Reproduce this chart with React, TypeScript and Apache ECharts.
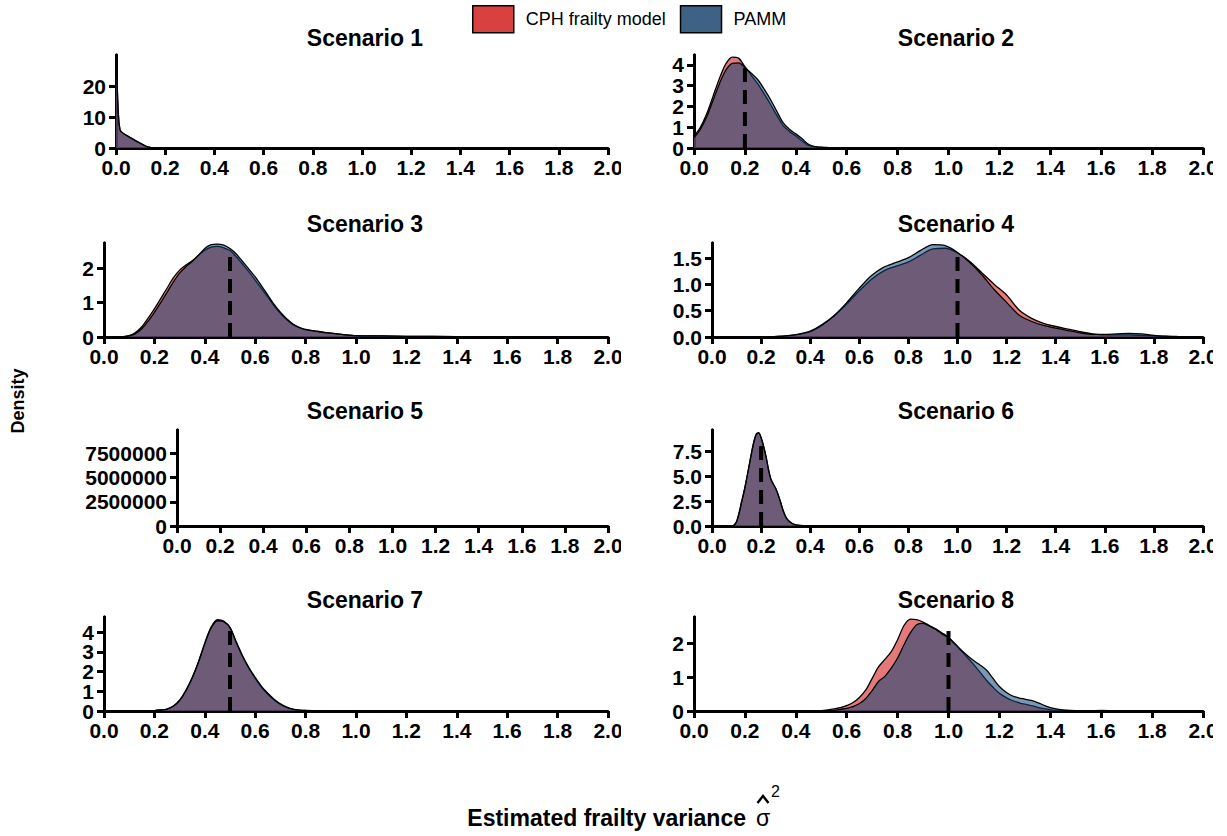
import React, { useEffect, useRef } from "react";
import * as echarts from "echarts";

const FONT = '"Liberation Sans", Arial, Helvetica, sans-serif';
const RED = "#d94040";
const BLUE = "#3e6286";
const RED_FILL = "#d94040";
const BLUE_FILL = "#0d4376";
const SERIES_NAMES = ["CPH frailty model", "PAMM"];
const TITLES = ["Scenario 1", "Scenario 2", "Scenario 3", "Scenario 4", "Scenario 5", "Scenario 6", "Scenario 7", "Scenario 8"];
const X_TITLE = "Estimated frailty variance";
const Y_TITLE = "Density";

// ---------- data ----------
const s1X = [0, 0.004, 0.008, 0.012, 0.016, 0.02, 0.03, 0.04, 0.05, 0.06, 0.07, 0.08, 0.09, 0.1, 0.11, 0.12, 0.13, 0.14, 0.16, 0.18, 0.2, 0.25, 0.3, 2.0];
const s1Cph = [29.5, 22, 13, 8, 6, 5.3, 4.7, 4.2, 3.7, 3.2, 2.7, 2.2, 1.8, 1.4, 1.0, 0.6, 0.35, 0.2, 0.1, 0.06, 0.04, 0.01, 0, 0];
const s1Pamm = [29.5, 22, 13, 8, 6, 5.3, 4.7, 4.2, 3.75, 3.3, 2.85, 2.4, 2.0, 1.55, 1.1, 0.65, 0.35, 0.2, 0.1, 0.06, 0.04, 0.01, 0, 0];

const s2X = [0, 0.025, 0.05, 0.075, 0.1, 0.125, 0.15, 0.175, 0.2, 0.225, 0.25, 0.275, 0.3, 0.325, 0.35, 0.375, 0.4, 0.425, 0.45, 0.475, 0.5, 0.525, 0.55, 0.575, 0.6, 2.0];
const s2Cph = [0.56, 1.0, 1.65, 2.5, 3.35, 4.05, 4.38, 4.33, 3.92, 3.5, 3.1, 2.62, 2.12, 1.58, 1.08, 0.8, 0.58, 0.34, 0.12, 0.05, 0.03, 0.02, 0.012, 0.006, 0.002, 0];
const s2Pamm = [0.5, 0.9, 1.5, 2.3, 3.1, 3.75, 4.08, 4.1, 3.88, 3.6, 3.3, 2.85, 2.35, 1.78, 1.22, 0.9, 0.68, 0.44, 0.18, 0.07, 0.04, 0.025, 0.015, 0.008, 0.003, 0];

const s3X = [0, 0.05, 0.075, 0.1, 0.125, 0.15, 0.175, 0.2, 0.225, 0.25, 0.275, 0.3, 0.325, 0.35, 0.375, 0.4, 0.425, 0.45, 0.475, 0.5, 0.525, 0.55, 0.575, 0.6, 0.625, 0.65, 0.675, 0.7, 0.725, 0.75, 0.775, 0.8, 0.85, 0.9, 0.95, 1.0, 1.1, 1.2, 1.4, 1.6, 2.0];
const s3Cph = [0, 0, 0.01, 0.04, 0.13, 0.3, 0.55, 0.82, 1.12, 1.42, 1.72, 1.95, 2.1, 2.22, 2.38, 2.53, 2.62, 2.64, 2.6, 2.52, 2.34, 2.12, 1.9, 1.66, 1.41, 1.16, 0.91, 0.69, 0.5, 0.36, 0.27, 0.21, 0.16, 0.11, 0.07, 0.04, 0.03, 0.02, 0.01, 0.005, 0];
const s3Pamm = [0, 0, 0.008, 0.03, 0.1, 0.24, 0.46, 0.72, 1.0, 1.3, 1.6, 1.86, 2.05, 2.2, 2.38, 2.58, 2.69, 2.71, 2.68, 2.58, 2.42, 2.2, 1.98, 1.75, 1.49, 1.22, 0.95, 0.72, 0.53, 0.38, 0.28, 0.22, 0.16, 0.11, 0.07, 0.04, 0.03, 0.02, 0.01, 0.005, 0];

const s4X = [0, 0.1, 0.2, 0.25, 0.3, 0.35, 0.4, 0.45, 0.5, 0.55, 0.6, 0.65, 0.7, 0.75, 0.8, 0.85, 0.9, 0.95, 1.0, 1.05, 1.1, 1.15, 1.2, 1.25, 1.3, 1.35, 1.4, 1.45, 1.5, 1.55, 1.6, 1.65, 1.7, 1.75, 1.8, 1.85, 1.9, 1.95, 2.0];
const s4Cph = [0, 0.001, 0.003, 0.008, 0.02, 0.05, 0.1, 0.23, 0.41, 0.63, 0.88, 1.1, 1.26, 1.35, 1.43, 1.56, 1.68, 1.69, 1.6, 1.44, 1.22, 1.0, 0.8, 0.52, 0.36, 0.26, 0.2, 0.15, 0.1, 0.06, 0.04, 0.04, 0.04, 0.03, 0.02, 0.01, 0.005, 0.002, 0];
const s4Pamm = [0, 0.001, 0.003, 0.008, 0.02, 0.05, 0.11, 0.24, 0.42, 0.66, 0.93, 1.17, 1.33, 1.42, 1.51, 1.65, 1.76, 1.74, 1.61, 1.42, 1.18, 0.9, 0.66, 0.42, 0.3, 0.22, 0.17, 0.12, 0.08, 0.05, 0.05, 0.06, 0.07, 0.06, 0.03, 0.015, 0.008, 0.003, 0];

const s5X = [0, 0.001, 2.0];
const s5Cph = [9900000, 0, 0];
const s5Pamm = [9900000, 0, 0];

const s6X = [0, 0.08, 0.09, 0.1, 0.11, 0.12, 0.13, 0.14, 0.15, 0.16, 0.17, 0.18, 0.19, 0.2, 0.21, 0.22, 0.23, 0.24, 0.25, 0.26, 0.27, 0.28, 0.29, 0.3, 0.31, 0.32, 0.33, 0.35, 0.4, 0.5, 2.0];
const s6Cph = [0, 0, 0.1, 0.45, 1.3, 2.4, 3.4, 4.6, 5.9, 7.2, 8.4, 9.2, 9.33, 8.8, 7.95, 6.9, 5.6, 4.65, 4.15, 3.7, 3.05, 2.3, 1.5, 0.9, 0.55, 0.35, 0.2, 0.07, 0.01, 0, 0];
const s6Pamm = [0, 0, 0.08, 0.4, 1.2, 2.3, 3.35, 4.55, 5.85, 7.15, 8.3, 9.1, 9.28, 8.85, 8.0, 6.95, 5.7, 4.7, 4.2, 3.75, 3.1, 2.35, 1.55, 0.95, 0.58, 0.37, 0.22, 0.08, 0.01, 0, 0];

const s7X = [0, 0.15, 0.2, 0.225, 0.25, 0.275, 0.3, 0.325, 0.35, 0.375, 0.4, 0.425, 0.45, 0.475, 0.5, 0.525, 0.55, 0.575, 0.6, 0.625, 0.65, 0.675, 0.7, 0.725, 0.75, 0.775, 0.8, 0.85, 0.9, 1.0, 2.0];
const s7Cph = [0, 0, 0.02, 0.05, 0.1, 0.25, 0.55, 1.05, 1.7, 2.5, 3.45, 4.25, 4.63, 4.55, 4.22, 3.45, 2.75, 2.15, 1.65, 1.2, 0.85, 0.56, 0.33, 0.18, 0.08, 0.04, 0.025, 0.015, 0.008, 0.003, 0];
const s7Pamm = [0, 0, 0.02, 0.05, 0.1, 0.24, 0.53, 1.02, 1.67, 2.47, 3.4, 4.2, 4.57, 4.52, 4.22, 3.5, 2.8, 2.2, 1.7, 1.25, 0.9, 0.6, 0.36, 0.2, 0.09, 0.045, 0.028, 0.016, 0.009, 0.003, 0];

const s8X = [0, 0.4, 0.45, 0.5, 0.525, 0.55, 0.575, 0.6, 0.625, 0.65, 0.675, 0.7, 0.725, 0.75, 0.775, 0.8, 0.825, 0.85, 0.875, 0.9, 0.925, 0.95, 0.975, 1.0, 1.025, 1.05, 1.075, 1.1, 1.125, 1.15, 1.175, 1.2, 1.225, 1.25, 1.275, 1.3, 1.325, 1.35, 1.375, 1.4, 1.425, 1.45, 1.5, 1.55, 1.6, 1.65, 1.7, 2.0];
const s8Cph = [0, 0, 0.003, 0.01, 0.03, 0.06, 0.1, 0.16, 0.25, 0.4, 0.62, 0.96, 1.3, 1.52, 1.75, 2.1, 2.52, 2.71, 2.69, 2.62, 2.52, 2.42, 2.3, 2.17, 1.98, 1.77, 1.57, 1.36, 1.13, 0.9, 0.7, 0.52, 0.4, 0.31, 0.25, 0.2, 0.16, 0.11, 0.07, 0.04, 0.02, 0.01, 0.004, 0.002, 0.001, 0, 0, 0];
const s8Pamm = [0, 0, 0.002, 0.005, 0.01, 0.02, 0.05, 0.08, 0.13, 0.22, 0.37, 0.6, 0.87, 1.02, 1.26, 1.56, 1.95, 2.3, 2.54, 2.58, 2.5, 2.4, 2.27, 2.15, 1.98, 1.8, 1.63, 1.48, 1.35, 1.2, 0.96, 0.72, 0.56, 0.45, 0.39, 0.35, 0.31, 0.25, 0.17, 0.1, 0.06, 0.03, 0.01, 0.01, 0.015, 0.005, 0, 0];

// true values (dashed lines) and the height the dashed segment reaches
const trueValues = [null, 0.2, 0.5, 1.0, null, 0.2, 0.5, 1.0];
const dashTops = [null, 4.0, 2.55, 1.61, null, 8.8, 4.35, 2.5];

// axes
const xMin = 0;
const xMax = 2;
const xInterval = 0.2;
const yMaxes = [30, 4.48, 2.74, 1.79, 9900000, 9.6, 4.76, 2.77];
const yTicks = [
  [0, 10, 20],
  [0, 1, 2, 3, 4],
  [0, 1, 2],
  [0, 0.5, 1.0, 1.5],
  [0, 2500000, 5000000, 7500000],
  [0, 2.5, 5.0, 7.5],
  [0, 1, 2, 3, 4],
  [0, 1, 2],
];
const yDecimals = [0, 0, 0, 1, 0, 1, 0, 0];

const xs = [s1X, s2X, s3X, s4X, s5X, s6X, s7X, s8X];
const cphs = [s1Cph, s2Cph, s3Cph, s4Cph, s5Cph, s6Cph, s7Cph, s8Cph];
const pamms = [s1Pamm, s2Pamm, s3Pamm, s4Pamm, s5Pamm, s6Pamm, s7Pamm, s8Pamm];

// ---------- layout ----------
const CHART_W = 1213;
const CHART_H = 836;
const rowTops = [55, 243, 430, 617];
const rowBottoms = [148, 337, 526, 711];
const panelLefts = [116, 694, 104, 712, 177, 712, 104, 694];
const colRights = [608, 1203];
const titleCenters = [365, 956];
const titleYs = [38, 224, 411, 600];

const zip = (a: number[], b: number[]) => a.map((v, i) => [v, b[i]]);

function yAxisFor(i: number, values: number[]) {
  const dec = yDecimals[i];
  return {
    type: "value",
    gridIndex: i,
    position: "left",
    min: 0,
    max: yMaxes[i],
    axisLine: { show: true, onZero: false, lineStyle: { color: "#000", width: 3 } },
    axisTick: { show: true, length: 7, customValues: values, lineStyle: { color: "#000", width: 3 } },
    axisLabel: {
      customValues: values,
      color: "#000",
      fontWeight: "bold",
      fontSize: 21,
      fontFamily: FONT,
      margin: 10,
      showMinLabel: true,
      showMaxLabel: true,
      hideOverlap: false,
      formatter: (v: number) => (dec > 0 ? v.toFixed(dec) : String(Math.round(v))),
    },
    splitLine: { show: false },
  };
}

function buildOption() {
  const grids: any[] = [];
  const xAxes: any[] = [];
  const yAxes: any[] = [];
  const series: any[] = [];
  const graphics: any[] = [];

  for (let i = 0; i < 8; i++) {
    const row = Math.floor(i / 2);
    const col = i % 2;
    const left = panelLefts[i];
    const top = rowTops[row];
    grids.push({
      left,
      top,
      width: colRights[col] - left,
      height: rowBottoms[row] - top,
      containLabel: false,
      outerBoundsMode: "none",
    });
    xAxes.push({
      type: "value",
      gridIndex: i,
      min: xMin,
      max: xMax,
      interval: xInterval,
      axisLine: { show: true, onZero: false, lineStyle: { color: "#000", width: 3 } },
      axisTick: { show: true, length: 7, lineStyle: { color: "#000", width: 3 } },
      axisLabel: {
        color: "#000",
        fontWeight: "bold",
        fontSize: 21,
        fontFamily: FONT,
        margin: 9,
        showMinLabel: true,
        showMaxLabel: true,
        hideOverlap: false,
        formatter: (v: number) => v.toFixed(1),
      },
      splitLine: { show: false },
    });
    // two overlaid y axes per panel (alternate ticks) so that dense tick labels are not thinned out
    const evenTicks = yTicks[i].filter((_, k) => k % 2 === 0);
    const oddTicks = yTicks[i].filter((_, k) => k % 2 === 1);
    yAxes.push(yAxisFor(i, evenTicks));
    yAxes.push(yAxisFor(i, oddTicks));
    const yIdx = 2 * i;

    const smooth = i === 0 || i === 4 ? false : 0.3;
    series.push({
      type: "line",
      name: SERIES_NAMES[0],
      xAxisIndex: i,
      yAxisIndex: yIdx,
      data: zip(xs[i], cphs[i]),
      symbol: "none",
      smooth,
      itemStyle: { color: RED },
      lineStyle: { color: "#000", width: 1.3 },
      areaStyle: { color: RED_FILL, opacity: 0.7 },
      z: 2,
    });
    series.push({
      type: "line",
      name: SERIES_NAMES[1],
      xAxisIndex: i,
      yAxisIndex: yIdx,
      data: zip(xs[i], pamms[i]),
      symbol: "none",
      smooth,
      itemStyle: { color: BLUE },
      lineStyle: { color: "#000", width: 1.3 },
      areaStyle: { color: BLUE_FILL, opacity: 0.55 },
      z: 3,
    });
    const tv = trueValues[i];
    const dt = dashTops[i];
    if (tv !== null && dt !== null) {
      series.push({
        type: "line",
        name: "true value " + (i + 1),
        xAxisIndex: i,
        yAxisIndex: yIdx,
        data: [
          [tv, 0],
          [tv, dt],
        ],
        symbol: "none",
        silent: true,
        lineStyle: { color: "#000", width: 4, type: [14, 8] },
        z: 5,
      });
    }

    graphics.push({
      type: "text",
      x: titleCenters[col],
      y: titleYs[row],
      style: {
        text: TITLES[i],
        textAlign: "center",
        textVerticalAlign: "middle",
        font: `bold 23px ${FONT}`,
        fill: "#000",
      },
    });
    if (col === 0) {
      // panel clip of the left column's last tick label
      graphics.push({
        type: "rect",
        z: 100,
        shape: { x: 621, y: rowBottoms[row] + 5, width: 32, height: 34 },
        style: { fill: "#fff" },
      });
    }
  }

  graphics.push({
    type: "text",
    x: 18,
    y: 401,
    rotation: Math.PI / 2,
    style: {
      text: Y_TITLE,
      textAlign: "center",
      textVerticalAlign: "middle",
      font: `bold 18px ${FONT}`,
      fill: "#000",
    },
  });
  graphics.push({
    type: "text",
    x: 746,
    y: 818,
    style: {
      text: X_TITLE,
      textAlign: "right",
      textVerticalAlign: "middle",
      font: `bold 23px ${FONT}`,
      fill: "#000",
    },
  });
  graphics.push({
    type: "text",
    x: 763,
    y: 818,
    style: { text: "σ", textAlign: "center", textVerticalAlign: "middle", font: `23px ${FONT}`, fill: "#000" },
  });
  graphics.push({
    type: "polyline",
    shape: {
      points: [
        [757.5, 803],
        [763, 796],
        [768.5, 803],
      ],
    },
    style: { stroke: "#000", lineWidth: 2.4, fill: null },
  });
  graphics.push({
    type: "text",
    x: 771,
    y: 791,
    style: { text: "2", textAlign: "left", textVerticalAlign: "middle", font: `16px ${FONT}`, fill: "#000" },
  });

  return {
    animation: false,
    backgroundColor: "#fff",
    legend: {
      top: 5,
      left: 472,
      padding: 0,
      itemWidth: 41,
      itemHeight: 27,
      itemGap: 14,
      icon: "rect",
      selectedMode: false,
      itemStyle: { borderColor: "#000", borderWidth: 1.5 },
      textStyle: { color: "#000", fontSize: 18, fontFamily: FONT, padding: [0, 0, 0, 7] },
      data: [
        { name: SERIES_NAMES[0], itemStyle: { color: RED } },
        { name: SERIES_NAMES[1], itemStyle: { color: BLUE } },
      ],
    },
    grid: grids,
    xAxis: xAxes,
    yAxis: yAxes,
    series,
    graphic: { elements: graphics },
  };
}

export default function App() {
  const ref = useRef<HTMLDivElement>(null);
  useEffect(() => {
    document.body.style.margin = "0";
    if (!ref.current) return;
    const chart = echarts.init(ref.current, undefined, { renderer: "svg" });
    chart.setOption(buildOption() as any);
    return () => chart.dispose();
  }, []);
  return (
    <div style={{ width: 1227, height: CHART_H, background: "#fff", overflow: "hidden" }}>
      <div ref={ref} style={{ width: CHART_W, height: CHART_H }} />
    </div>
  );
}
